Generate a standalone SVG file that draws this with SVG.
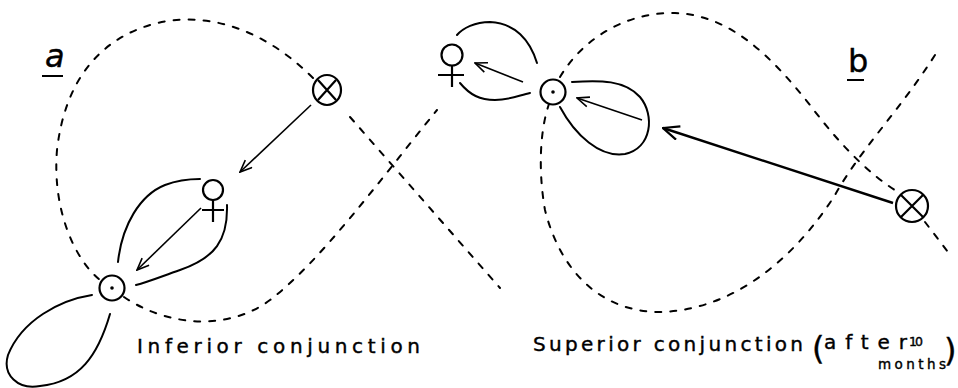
<svg xmlns="http://www.w3.org/2000/svg" width="958" height="388" viewBox="0 0 958 388">
<style>
.orbit{fill:none;stroke:#000;stroke-width:2;stroke-dasharray:6 9;stroke-linecap:round}
.loop{fill:none;stroke:#000;stroke-width:2;stroke-linecap:round}
.arr{fill:none;stroke:#000;stroke-width:1.6;marker-end:url(#ah)}
.arrb{fill:none;stroke:#000;stroke-width:2.4;marker-end:url(#ahb)}
.sym{fill:none;stroke:#000;stroke-width:2.2}
.txt{font-family:"DejaVu Sans","Liberation Sans",sans-serif;fill:#000;stroke:#000;stroke-width:0.4}
</style>
<defs>
<marker id="ah" viewBox="0 0 14 12" refX="13" refY="6" markerWidth="14" markerHeight="12" markerUnits="userSpaceOnUse" orient="auto">
<path d="M1,1 L13,6 L1,11" fill="none" stroke="#000" stroke-width="1.6"/>
</marker>
<marker id="ahb" viewBox="0 0 18 16" refX="17" refY="8" markerWidth="18" markerHeight="16" markerUnits="userSpaceOnUse" orient="auto">
<path d="M1,1 L17,8 L1,15" fill="none" stroke="#000" stroke-width="2.2"/>
</marker>
</defs>
<rect width="958" height="388" fill="#fff"/>

<g id="orbits">
<path class="orbit" d="M313,78 C260,25 200,10 150,25 C100,40 65,80 57,150 C52,210 75,260 100,280"/>
<path class="orbit" d="M124,297 C170,328 230,330 270,300 C320,262 380,180 437,110"/>
<path class="orbit" d="M350,117 L500,288"/>
<path class="orbit" d="M560,77 C585,35 630,12 675,13 C730,15 770,55 810,105 C840,145 870,175 898,192"/>
<path class="orbit" d="M925,222 L948,252"/>
<path class="orbit" d="M935,55 C900,110 860,150 835,195 C800,250 740,310 660,312 C600,312 560,270 545,210 C538,170 540,130 549,104"/>
</g>

<g id="connectors">
<path class="loop" d="M118,262 C122,225 140,195 165,185 C178,180 190,179 200,179"/>
<path class="loop" d="M227,205 C228,240 215,258 180,270 C160,277 148,282 136,285"/>
<path class="loop" d="M92,295 C60,300 22,320 8,355 C2,375 18,390 40,386 C80,382 98,355 110,314"/>
<path class="loop" d="M537,63 C530,40 515,23 490,22 C475,22 463,28 457,35"/>
<path class="loop" d="M460,83 C470,95 480,100 495,100 C510,100 520,95 530,93"/>
<path class="loop" d="M572,82 C600,80 625,80 640,97 C655,115 652,148 625,154 C600,158 575,135 560,107"/>
<path class="arr" d="M311,105 L240,172"/>
<path class="arr" d="M201,208 L137,270"/>
<path class="arr" d="M523,82 L475,63"/>
<path class="arr" d="M642,120 L577,98"/>
<path class="arrb" d="M893,203 L663,128"/>
</g>

<g id="earth-a">
<ellipse class="sym" cx="327" cy="90" rx="14" ry="15"/>
<path class="sym" d="M318,80 L336,100 M336,80 L318,100"/>
</g>
<g id="venus-a">
<circle class="sym" cx="213" cy="190" r="10"/>
<path class="sym" d="M213,200 L213,222 M202,210 L224,210"/>
</g>
<g id="sun-a">
<circle class="sym" cx="112" cy="288" r="12.5"/>
<circle cx="112" cy="288" r="1.8" fill="#000"/>
</g>
<g id="venus-b">
<circle class="sym" cx="452" cy="55" r="10.5"/>
<path class="sym" d="M452,65 L452,87 M438,75 L464,75"/>
</g>
<g id="sun-b">
<circle class="sym" cx="553" cy="92" r="12.5"/>
<circle cx="553" cy="92" r="1.8" fill="#000"/>
</g>
<g id="earth-b">
<circle class="sym" cx="912" cy="206" r="16"/>
<path class="sym" d="M901,195 L923,217 M923,195 L901,217"/>
</g>

<g id="labels">
<text class="txt" x="45" y="67" font-size="32" font-style="italic">a</text>
<line x1="42" y1="76" x2="63" y2="76" stroke="#000" stroke-width="2"/>
<text class="txt" x="848" y="72" font-size="32">b</text>
<line x1="847" y1="80" x2="864" y2="80" stroke="#000" stroke-width="2"/>
<text class="txt" x="137" y="353" font-size="20" textLength="283" lengthAdjust="spacing">Inferior conjunction</text>
<text class="txt" x="533" y="351" font-size="20" textLength="270" lengthAdjust="spacing">Superior conjunction</text>
<text class="txt" x="812" y="359" font-size="32" stroke-width="0.2">(</text>
<text class="txt" x="824" y="349" font-size="20" textLength="83" lengthAdjust="spacing">after</text>
<text class="txt" x="909" y="346" font-size="12.5" textLength="14" lengthAdjust="spacing">10</text>
<text class="txt" x="878" y="369" font-size="13.5" textLength="68" lengthAdjust="spacing">months</text>
<text class="txt" x="944" y="361" font-size="32" stroke-width="0.2">)</text>
</g>
</svg>
